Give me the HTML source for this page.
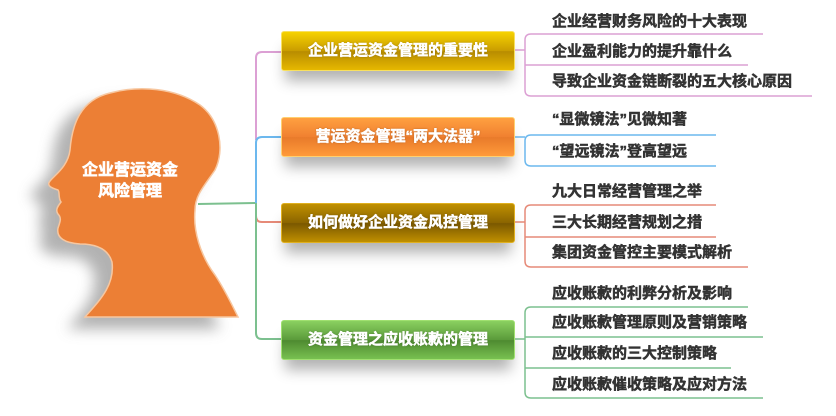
<!DOCTYPE html>
<html><head><meta charset="utf-8"><style>
body{margin:0;width:836px;height:416px;background:#fff;overflow:hidden;font-family:"Liberation Sans","Noto Sans CJK SC",sans-serif;}
.box{position:absolute;left:281px;width:232px;height:38px;border-radius:3px;color:#fff;font-weight:bold;font-size:15px;line-height:38px;text-align:center;box-shadow:0 14px 14px -4px rgba(0,0,0,.3);text-shadow:0 0 2px rgba(0,0,0,.3);-webkit-text-stroke:0.5px #fff;}
.leaf{position:absolute;left:552px;font-size:15px;font-weight:bold;color:#333;white-space:nowrap;-webkit-text-stroke:0.5px #333;}
</style></head><body>
<svg width="836" height="416" style="position:absolute;left:0;top:0">
<defs><filter id="sh" x="-30%" y="-30%" width="160%" height="160%"><feGaussianBlur stdDeviation="7"/></filter></defs>
<path transform="translate(-18,12)" filter="url(#sh)" fill="#999" opacity=".75" d="M85,317 C100,300 115,285 112,262 C108,248 95,244 80,244 C65,243 56,238 58,228 C60,222 62,218 58,214 C55,210 58,206 61,202 C58,198 60,192 58,190 C52,188 46,186 50,181 C56,174 68,166 70,150 C72,125 80,100 110,93 C140,85 175,88 200,105 C220,120 225,150 215,170 C205,185 195,195 195,210 C193,230 200,255 215,275 C225,290 232,305 238,317 Z"/>
<path fill="#ec7f35" stroke="#f7c7a0" stroke-width="1.5" d="M85,317 C100,300 115,285 112,262 C108,248 95,244 80,244 C65,243 56,238 58,228 C60,222 62,218 58,214 C55,210 58,206 61,202 C58,198 60,192 58,190 C52,188 46,186 50,181 C56,174 68,166 70,150 C72,125 80,100 110,93 C140,85 175,88 200,105 C220,120 225,150 215,170 C205,185 195,195 195,210 C193,230 200,255 215,275 C225,290 232,305 238,317 Z"/>
<g fill="#fff" stroke="#fff" stroke-width="0.6" font-weight="bold" font-size="16" font-family="Liberation Sans, Noto Sans CJK SC, sans-serif" text-anchor="middle">
<text x="130" y="175">企业营运资金</text>
<text x="130" y="196">风险管理</text>
</g>
<g fill="none" stroke-width="2">
<path d="M198,204 L256,203" stroke="#7cc08f"/>
<path d="M281,52 L262,52 Q256,52 256,58 L256,140" stroke="#dca0d4"/>
<path d="M281,137 L262,137 Q256,137 256,143 L256,203" stroke="#6cb8ee"/>
<path d="M256,203 L256,216 Q256,222 262,222 L281,222" stroke="#e68a78"/>
<path d="M256,203 L256,333 Q256,339 262,339 L281,339" stroke="#7cc08f"/>
</g>
<g fill="none" stroke-width="1.5">
<g stroke="#dca0d4"><path d="M513,50 L525,50"/><path d="M763,34 L531,34 Q525,34 525,40 L525,90 Q525,96 531,96 L812,96"/><path d="M525,65 L748,65"/></g>
<g stroke="#6cb8ee"><path d="M513,137 L525,137"/><path d="M716,135 L531,135 Q525,135 525,141 L525,160 Q525,166 531,166 L716,166"/></g>
<g stroke="#e68a78"><path d="M513,222 L525,222"/><path d="M716,205 L531,205 Q525,205 525,211 L525,261 Q525,267 531,267 L748,267"/><path d="M525,237 L716,237"/></g>
<g stroke="#7cc08f"><path d="M513,339 L525,339"/><path d="M748,307 L531,307 Q525,307 525,313 L525,392 Q525,398 531,398 L763,398"/><path d="M525,337 L763,337"/><path d="M525,368 L731,368"/></g>
</g>
</svg>
<div class="box" style="top:31px;background:linear-gradient(#f6d200,#c99c00 50%,#b88c00 51%,#e6b800);border:1px solid #f8e060">企业营运资金管理的重要性</div>
<div class="box" style="top:117px;background:linear-gradient(#ffa040,#f08030 50%,#e87a2a 51%,#ff9a3a);border:1px solid #ffd070">营运资金管理“两大法器”</div>
<div class="box" style="top:203px;background:linear-gradient(#c09000,#8a6400 50%,#7a5800 51%,#c09000);border:1px solid #e0b020">如何做好企业资金风控管理</div>
<div class="box" style="top:320px;background:linear-gradient(#8ad060,#5a9a3a 50%,#4e8a30 51%,#78c050);border:1px solid #a0e070">资金管理之应收账款的管理</div>
<div class="leaf" style="top:10px">企业经营财务风险的十大表现</div>
<div class="leaf" style="top:40px">企业盈利能力的提升靠什么</div>
<div class="leaf" style="top:70px">导致企业资金链断裂的五大核心原因</div>
<div class="leaf" style="top:108px">“显微镜法”见微知著</div>
<div class="leaf" style="top:140px">“望远镜法”登高望远</div>
<div class="leaf" style="top:180px">九大日常经营管理之举</div>
<div class="leaf" style="top:211px">三大长期经营规划之措</div>
<div class="leaf" style="top:241px">集团资金管控主要模式解析</div>
<div class="leaf" style="top:282px">应收账款的利弊分析及影响</div>
<div class="leaf" style="top:311px">应收账款管理原则及营销策略</div>
<div class="leaf" style="top:342px">应收账款的三大控制策略</div>
<div class="leaf" style="top:373px">应收账款催收策略及应对方法</div>
</body></html>
